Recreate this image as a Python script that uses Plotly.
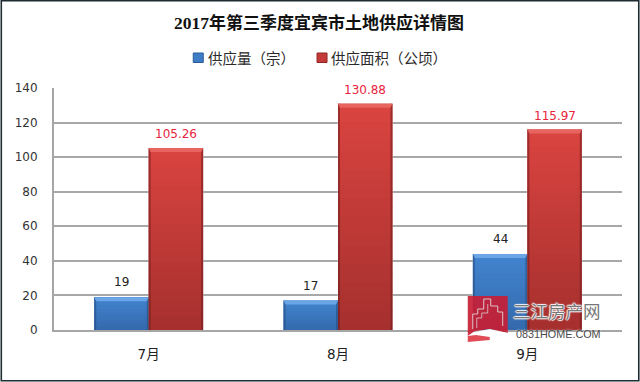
import plotly.graph_objects as go

months = ["7月", "8月", "9月"]
supply_count = [19, 17, 44]
supply_area = [105.26, 130.88, 115.97]
count_labels = ["19", "17", "44"]
area_labels = ["105.26", "130.88", "115.97"]
y_ticks = [0, 20, 40, 60, 80, 100, 120, 140]
series_names = ["供应量（宗）", "供应面积（公顷）"]

W, H = 640, 382
L, R, T, B = 53.5, 17.5, 88, 52
BAR = 0.2875
xs = list(range(len(months)))
PW, PH = W - L - R, H - T - B
ux = 3 / PW
uy = 140 / PH


def px(x):
    return (x - L) / PW


def py(y):
    return (H - B - y) / PH


def lerp(a, b, t):
    return "rgb(%d,%d,%d)" % tuple(round(a[i] + (b[i] - a[i]) * t) for i in range(3))


def poly(points, **kw):
    d = "M " + " L ".join(f"{px(x):.5f} {py(y):.5f}" for x, y in points)
    return dict(type="path", xref="paper", yref="paper", path=d, **kw)


shapes = []
shapes.append(dict(type="rect", xref="paper", yref="paper", x0=px(0.7), x1=px(639.3), y0=py(0.7), y1=py(380.8),
                   line=dict(color="#1c2c30", width=1.6), layer="below"))


def bar_shapes(centres, values, top, bottom, bevel, dark, side):
    out = []
    for c, v in zip(centres, values):
        x0, x1 = (c, c + BAR) if side > 0 else (c - BAR, c)
        n = 24
        for k in range(n):
            a, b = v * k / n, v * (k + 1) / n
            out.append(dict(type="rect", xref="x", yref="y", x0=x0, x1=x1, y0=a, y1=b + 0.2 if k < n - 1 else b,
                            line_width=0, fillcolor=lerp(bottom, top, (k + 0.5) / n)))
        e = 2 * ux
        h = 4 * uy
        out.append(dict(type="rect", xref="x", yref="y", x0=x0, x1=x0 + e, y0=0, y1=v, line_width=0, fillcolor=dark, opacity=0.55))
        out.append(dict(type="rect", xref="x", yref="y", x0=x1 - e, x1=x1, y0=0, y1=v, line_width=0, fillcolor=dark, opacity=0.55))
        out.append(dict(type="path", xref="x", yref="y", line_width=0, fillcolor=bevel,
                        path=f"M {x0} {v} L {x1} {v} L {x1 - e} {v - h} L {x0 + e} {v - h} Z"))
    return out


shapes += bar_shapes(xs, supply_count, (66, 133, 208), (52, 105, 172), "#6aa5e6", "#234a7c", -1)
shapes += bar_shapes(xs, supply_area, (218, 68, 64), (165, 48, 46), "#e8645f", "#6e1c1c", 1)

# legend swatches
for x0, fill, edge in [(193, "#3f7cc6", "#2b5a96"), (317, "#c43a38", "#8e2624")]:
    shapes.append(dict(type="rect", xref="paper", yref="paper", x0=px(x0), x1=px(x0 + 10), y0=py(53), y1=py(62.5),
                       fillcolor=fill, line=dict(color=edge, width=1)))

# watermark
shapes.append(poly([(468, 296), (508, 296), (508, 333), (490, 329), (475, 331), (468, 336)], line_width=0,
                   fillcolor="rgba(200,30,52,0.92)"))
shapes.append(poly([(468, 336), (475, 332), (490, 329), (508, 333), (508, 338), (490, 334), (476, 335)], line_width=0,
                   fillcolor="rgba(255,255,255,0.95)"))
shapes.append(poly([(468, 336), (476, 335), (490, 337), (490, 340), (468, 342)], line_width=0,
                   fillcolor="rgba(222,60,70,0.92)"))
shapes.append(poly([(473, 329), (473, 314), (478, 314), (478, 309), (484, 309), (484, 299), (491, 299), (491, 306),
                    (498, 306), (498, 312), (503, 312), (503, 326)], line=dict(color="rgba(225,225,225,0.85)", width=1)))
shapes.append(poly([(477, 328), (477, 318), (482, 318), (482, 313), (488, 313), (488, 304)],
                   line=dict(color="rgba(225,225,225,0.7)", width=1)))

fig = go.Figure()
fig.add_bar(x=xs, y=supply_count, name=series_names[0], marker=dict(color="#3d78c4"))
fig.add_bar(x=xs, y=supply_area, name=series_names[1], marker=dict(color="#c23b38"))

ann = []
for x, v, s in zip(xs, supply_count, count_labels):
    ann.append(dict(x=x - BAR / 2, y=v, text=s, showarrow=False, yshift=15, font=dict(color="#222222", size=12)))
for x, v, s in zip(xs, supply_area, area_labels):
    ann.append(dict(x=x + BAR / 2, y=v, text=s, showarrow=False, yshift=14, font=dict(color="#e8243c", size=12)))
for x0, s in zip([206, 329], series_names):
    ann.append(dict(xref="paper", yref="paper", x=px(x0), y=py(57.5), xanchor="left", yanchor="middle", text=s,
                    showarrow=False, font=dict(family="Noto Sans CJK SC", size=14.5, color="#2a2a2a")))
halo = "1px 0 1px #fff, -1px 0 1px #fff, 0 1px 1px #fff, 0 -1px 1px #fff"
ann.append(dict(xref="paper", yref="paper", x=px(511), y=py(310), xanchor="left", yanchor="middle", text="三江房产网",
                showarrow=False, font=dict(family="Noto Sans CJK SC", size=17.5, color="#777777", shadow=halo)))
ann.append(dict(xref="paper", yref="paper", x=px(514), y=py(334), xanchor="left", yanchor="middle", text="0831HOME.COM",
                showarrow=False, font=dict(family="Liberation Sans", size=10.8, color="#4a4a4a", shadow="0 0 2px #fff")))

fig.update_layout(
    width=W, height=H, autosize=False,
    margin=dict(l=L, r=R, t=T, b=B, pad=0),
    paper_bgcolor="#ffffff", plot_bgcolor="#ffffff",
    font=dict(family="DejaVu Sans, Noto Sans CJK SC", color="#333333", size=12),
    title=dict(text="<b><span style='font-family:Liberation Serif;font-size:17.5px'>2017</span>年第三季度宜宾市土地供应详情图</b>",
               x=px(319), xanchor="center", xref="paper", y=1 - 23 / H, yanchor="middle",
               font=dict(family="Noto Sans CJK SC", size=17, color="#111111")),
    barmode="group", bargap=1 - 2 * BAR, bargroupgap=0,
    showlegend=False,
    xaxis=dict(range=[-0.5, 2.5], tickmode="array", tickvals=xs, ticktext=months, showgrid=False, zeroline=False,
               showline=True, linecolor="#a6a6a6", linewidth=2, ticks="", ticklabelstandoff=11,
               tickfont=dict(family="DejaVu Sans, Noto Sans CJK SC", size=13.5, color="#222222")),
    yaxis=dict(range=[0, 140], tickmode="array", tickvals=y_ticks, showgrid=True, gridcolor="#a8a8a8", gridwidth=2,
               zeroline=False, showline=True, linecolor="#a6a6a6", linewidth=2, ticks="", ticklabelstandoff=12,
               tickfont=dict(family="DejaVu Sans", size=12, color="#333333")),
    shapes=shapes,
    annotations=ann,
)
fig.write_html("out.html", post_script="document.body.style.margin='0';", config=dict(displayModeBar=False))
